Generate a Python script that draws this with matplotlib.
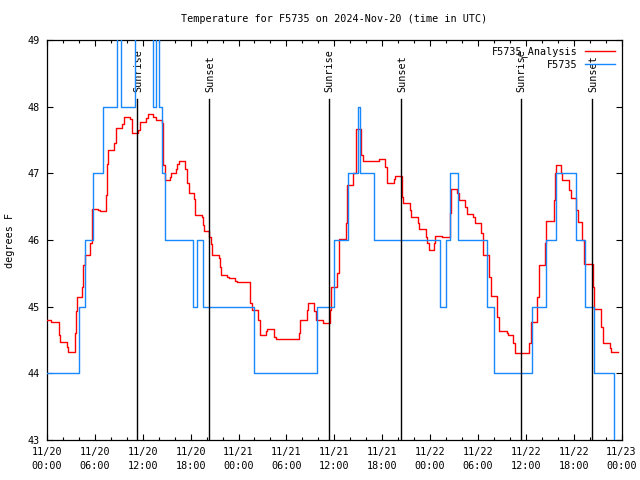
import numpy as np
import matplotlib
matplotlib.use("Agg")
import matplotlib.pyplot as plt

# ####################################################################
# data (hours since 2024-11-20 00:00 UTC)

# F5735 observations (step values)
obs_t = [0.0, 4.05, 4.8, 5.75, 7.05, 8.8, 9.25, 11.0, 13.3, 13.65, 14.05, 14.4,
         14.8, 18.3, 18.8, 19.55, 25.9, 33.9, 36.0, 37.7, 39.0, 39.2, 41.0,
         49.25, 50.0, 50.55, 51.55, 55.1, 56.0, 60.8, 62.55, 63.8, 66.3, 67.45,
         68.5, 71.1, 72.0]
obs_v = [44, 45, 46, 47, 48, 50, 48, 50, 48, 50, 48, 47,
         46, 45, 46, 45, 44, 45, 46, 47, 48, 47, 46,
         45, 46, 47, 46, 45, 44, 45, 46, 47, 46, 45,
         44, 42, 42]

# F5735_Analysis
ana_t = [0.0, 0.5, 1.45, 1.65, 2.45, 2.65, 3.45, 3.6, 3.7, 4.35, 4.55, 4.7,
         5.45, 5.6, 5.7, 6.45, 6.65, 7.45, 7.55, 7.7, 8.45, 8.6, 8.7, 9.45,
         9.7, 10.45, 10.6, 11.35, 11.6, 12.4, 12.65, 13.3, 13.6, 14.35, 14.5,
         14.6, 14.8, 15.4, 15.6, 16.15, 16.35, 16.6, 17.35, 17.5, 17.75, 18.4,
         18.6, 19.4, 19.55, 19.7, 20.35, 20.5, 20.7, 21.5, 21.7, 21.85, 22.6,
         22.75, 23.6, 23.75, 25.5, 25.7, 26.5, 26.7, 27.45, 27.6, 28.5, 28.7,
         31.55, 31.7, 32.55, 32.7, 33.4, 33.7, 34.6, 35.45, 35.65, 36.4, 36.55,
         36.65, 37.5, 37.65, 38.3, 38.7, 39.35, 39.55, 41.55, 41.7, 42.35,
         42.55, 43.45, 43.6, 44.45, 44.6, 45.45, 45.6, 46.45, 46.6, 47.45,
         47.6, 47.85, 48.45, 48.65, 49.45, 49.65, 50.45, 50.6, 51.35, 51.65,
         52.4, 52.65, 53.45, 53.65, 54.4, 54.7, 55.45, 55.7, 56.45, 56.7,
         57.6, 57.75, 58.45, 58.7, 60.45, 60.7, 61.45, 61.65, 62.45, 62.6,
         63.6, 63.7, 63.85, 64.4, 64.55, 65.45, 65.65, 66.3, 66.5, 67.1, 67.3,
         68.4, 68.6, 69.4, 69.65, 70.5, 70.7, 71.55]
ana_v = [44.8, 44.77, 44.57, 44.47, 44.4, 44.32, 44.6, 44.93, 45.14, 45.3, 45.63, 45.78,
         45.95, 46.3, 46.47, 46.45, 46.43, 46.68, 47.14, 47.35, 47.45, 47.61, 47.68, 47.74,
         47.85, 47.81, 47.61, 47.65, 47.77, 47.83, 47.89, 47.85, 47.8, 47.75, 47.59,
         47.13, 46.9, 46.94, 47.0, 47.06, 47.14, 47.18, 47.07, 46.85, 46.7, 46.61,
         46.38, 46.35, 46.23, 46.13, 46.04, 45.94, 45.78, 45.73, 45.59, 45.48, 45.44,
         45.43, 45.39, 45.37, 45.05, 44.95, 44.8, 44.58, 44.63, 44.66, 44.55, 44.52,
         44.6, 44.8, 44.95, 45.05, 44.93, 44.8, 44.75, 44.95, 45.3, 45.5, 45.85,
         46.02, 46.25, 46.82, 47.0, 47.66, 47.27, 47.18, 47.21, 47.22, 47.1,
         46.85, 46.92, 46.96, 46.65, 46.56, 46.45, 46.35, 46.25, 46.16, 46.05,
         45.95, 45.85, 45.95, 46.06, 46.05, 46.04, 46.4, 46.76, 46.7, 46.6,
         46.5, 46.39, 46.35, 46.26, 46.1, 45.78, 45.45, 45.16, 44.85, 44.63,
         44.6, 44.57, 44.45, 44.3, 44.45, 44.77, 45.15, 45.63, 45.95, 46.28,
         46.6, 47.0, 47.13, 47.0, 46.9, 46.75, 46.63, 46.45, 46.27, 46.0, 45.64,
         45.3, 44.97, 44.7, 44.45, 44.38, 44.32, 44.32]

sunrise = [11.3, 35.28, 59.36]
sunset = [20.35, 44.4, 68.35]

xtick_pos = np.arange(0, 73, 6)
xtick_lab = ["11/20\n00:00", "11/20\n06:00", "11/20\n12:00", "11/20\n18:00",
             "11/21\n00:00", "11/21\n06:00", "11/21\n12:00", "11/21\n18:00",
             "11/22\n00:00", "11/22\n06:00", "11/22\n12:00", "11/22\n18:00",
             "11/23\n00:00"]

# ####################################################################
plt.rcParams['font.family'] = ['DejaVu Sans Mono']
fs = 7.3

fig = plt.figure(figsize=(6.4, 4.8), dpi=100)
ax = fig.add_axes([47/640, 40/480, 574.5/640, 400/480])

ax.plot(ana_t, ana_v, drawstyle='steps-post', color='red', lw=1.0,
        label="F5735_Analysis", zorder=3)
ax.plot(obs_t, obs_v, drawstyle='steps-post', color='#1888ff', lw=1.0,
        label="F5735", zorder=4)

# sunrise / sunset markers
top = 48.11
for t in sunrise:
    ax.plot([t, t], [43, top], color='black', lw=1.0, zorder=5)
    ax.text(t + 0.15, 48.22, "Sunrise", rotation=90, ha='center', va='bottom',
            fontsize=fs)
for t in sunset:
    ax.plot([t, t], [43, top], color='black', lw=1.0, zorder=5)
    ax.text(t + 0.15, 48.22, "Sunset", rotation=90, ha='center', va='bottom',
            fontsize=fs)

ax.set_xlim(0, 72)
ax.set_ylim(43, 49)
ax.set_xticks(xtick_pos)
ax.set_xticklabels(xtick_lab, fontsize=fs, linespacing=1.5)
ax.set_xticks(np.arange(0, 73, 2), minor=True)
ax.set_yticks(np.arange(43, 50, 1))
ax.set_yticklabels([str(v) for v in range(43, 50)], fontsize=fs)
ax.tick_params(which='both', direction='in', top=True, right=True, width=0.8)
ax.tick_params(which='major', length=4.5, pad=5)
ax.tick_params(which='minor', length=2.5)
for s in ax.spines.values():
    s.set_linewidth(0.9)

ax.set_ylabel("degrees F", fontsize=fs, labelpad=9)
ax.set_title("Temperature for F5735 on 2024-Nov-20 (time in UTC)", fontsize=fs, pad=13)

ax.legend(loc='upper right', frameon=False, markerfirst=False, fontsize=fs,
          handlelength=3.0, handletextpad=0.7, labelspacing=0.25,
          borderaxespad=0.3, borderpad=0.3)

fig.savefig("out.png", dpi=100)
